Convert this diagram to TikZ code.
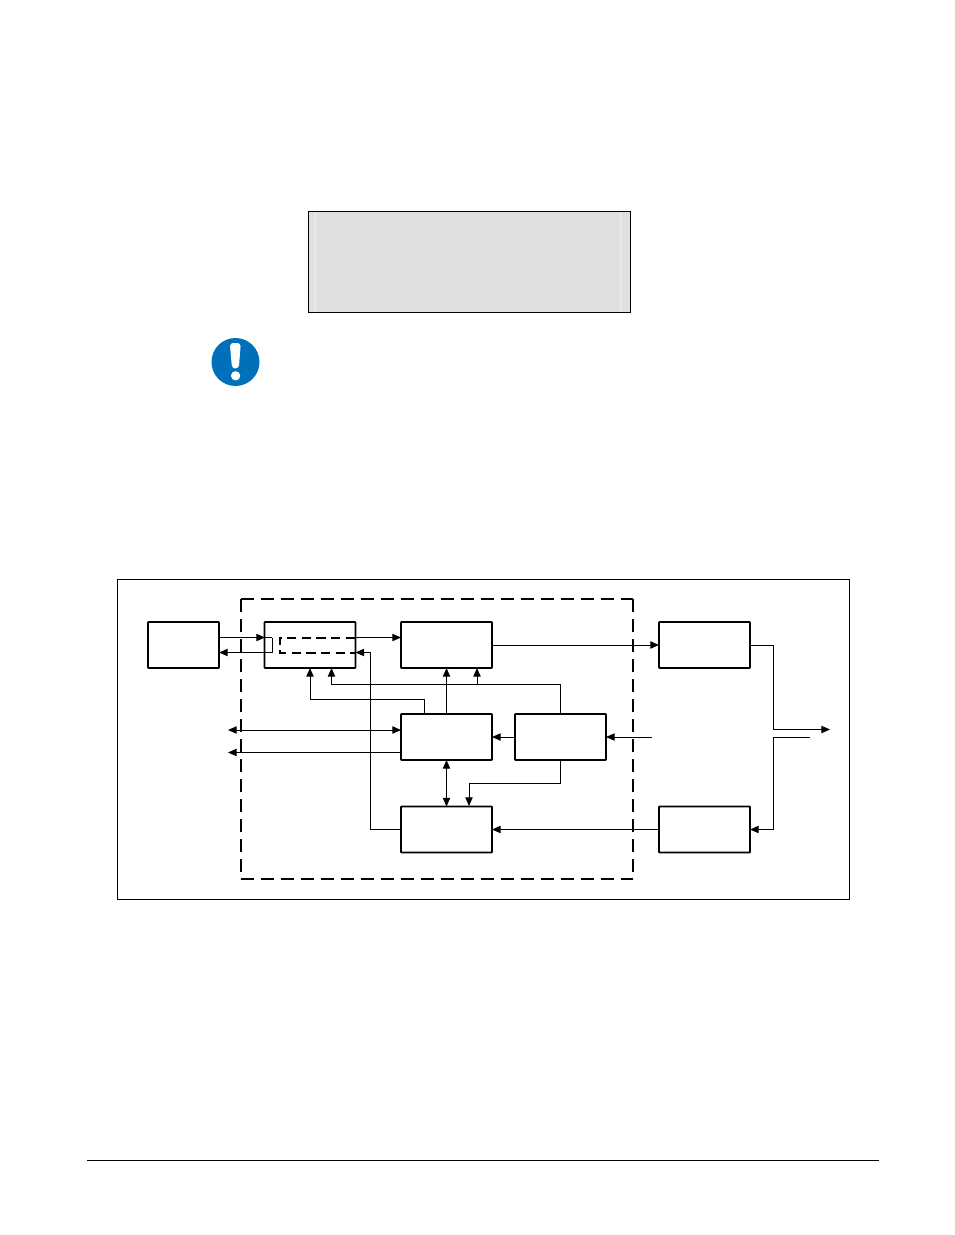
\documentclass[tikz,border=0pt]{standalone}
\usepackage{xcolor}
\usetikzlibrary{shapes.geometric, arrows.meta, positioning}
\definecolor{noteblue}{HTML}{0070BB}
\definecolor{panelgray}{HTML}{DFDFDF}
\definecolor{panelstrip}{HTML}{E9E9E9}

\begin{document}
\begin{tikzpicture}[
  x=0.75pt, y=-0.75pt,
  block/.style={rectangle, draw=black, line width=1.4pt, rounded corners=0.5pt, inner sep=0pt, outer sep=0pt, minimum width=68.25pt, minimum height=34.5pt},
  srcblock/.style={block, minimum width=53.25pt},
  panel/.style={rectangle, draw=black, line width=0.6pt, fill=panelgray, inner sep=0pt, outer sep=0pt, minimum width=241.5pt, minimum height=75.75pt},
  frame/.style={rectangle, draw=black, line width=0.6pt, inner sep=0pt, outer sep=0pt, minimum width=549pt, minimum height=240pt},
  region/.style={rectangle, inner sep=0pt, outer sep=0pt, minimum width=294pt, minimum height=210pt},
  coredash/.style={line width=1.5pt, dash pattern=on 10pt off 5pt},
  coreside/.style={line width=0.8pt, dash pattern=on 10pt off 5pt},
  arrow/.style={line width=0.75pt, -{Triangle[length=6.5pt,width=5.5pt]}},
  bothways/.style={line width=0.75pt, {Triangle[length=6.5pt,width=5.5pt]}-{Triangle[length=6.5pt,width=5.5pt]}},
  wire/.style={line width=0.75pt},
  innerdash/.style={line width=1.5pt, dash pattern=on 7pt off 4pt}
]
\useasboundingbox (0,0) rectangle (954,1235);

% Top panel and note icon
\node (panel) [panel] at (469,261.5) {};
\draw [panelstrip, line width=0.8pt] (315,213) -- (315,311);
\draw [panelstrip, line width=0.8pt] (621,213) -- (621,311);
\node (icon) [circle, fill=noteblue, inner sep=0pt, minimum size=36pt] at (235.5,362) {};
\fill [white, rounded corners=2.5pt] (229.8,343) -- (240.8,343) -- (238.8,368.5) -- (232,368.5) -- cycle;
\node (dot) [circle, fill=white, inner sep=0pt, minimum size=7pt] at (235.6,375.8) {};

% Frames
\node (frame) [frame] at (483.5,739) {};
\node (core) [region] at (437,739) {};
\draw [coredash] (core.north west) -- (core.north east);
\draw [coredash] (core.south west) -- (core.south east);
\draw [coreside] (core.north west) -- (core.south west);
\draw [coreside] (core.north east) -- (core.south east);

% Blocks
\node (src) [srcblock] at (183.5,645) {};
\node (link) [block] at (310,645) {};
\node (enc) [block] at (446.5,645) {};
\node (tx) [block] at (704.5,645) {};
\node (ctrl) [block] at (446.5,737) {};
\node (clk) [block] at (560.5,737) {};
\node (dec) [block] at (446.5,829.5) {};
\node (rx) [block] at (704.5,829.5) {};

% Free ends
\coordinate (srcin) at (219,637.5);
\coordinate (srcout) at (219,652.5);
\coordinate (linkin) at (265,637.5);
\coordinate (turnA) at (272,637.5);
\coordinate (turnB) at (272,652.5);
\coordinate (turnC) at (279.5,637.5);
\coordinate (turnD) at (279.5,652.5);
\coordinate (linkeast) at (355,637.5);
\coordinate (linkback) at (355.5,652.5);
\coordinate (encin) at (401,637.5);
\coordinate (busA) at (228,730);
\coordinate (busAend) at (401,730);
\coordinate (busB) at (228,752.5);
\coordinate (busBend) at (401,752.5);
\coordinate (refin) at (652,737);
\coordinate (txjoin) at (830,729.5);
\coordinate (rxjoin) at (810,737);

% Left side
\draw [arrow] (srcin) -- (linkin);
\draw [wire] (linkin) -- (turnA);
\draw [arrow] (turnB) -- (srcout);
\draw [wire] (turnA) -- (turnB);
\draw [innerdash] (linkeast) -- (turnC) -- (turnD) -- (linkback);
\draw [arrow] (linkeast) -- (encin);
\draw [arrow] (dec.west) -- (370.5,829.5) -- (370.5,652.5) -- (linkback);
\draw [bothways] (busA) -- (busAend);
\draw [arrow] (busBend) -- (busB);

% Middle
\draw [arrow] (enc.east) -- (tx.west);
\draw [arrow] (ctrl.north) -- (enc.south);
\draw [bothways] (ctrl.south) -- (dec.north);
\draw [arrow] (clk.west) -- (ctrl.east);
\draw [arrow] (refin) -- (clk.east);
\draw [arrow] (rx.west) -- (dec.east);
\draw [arrow] (clk.north) -- (560.5,684) -- (331.5,684) -- (331.5,668);
\draw [arrow] (477,684) -- (477,668);
\draw [arrow] (424,714) -- (424,699) -- (310,699) -- (link.south);
\draw [arrow] (clk.south) -- (560.5,783) -- (469,783) -- (469,806);

% Right side
\draw [arrow] (tx.east) -- (773,645) -- (773,729.5) -- (txjoin);
\draw [arrow] (rxjoin) -- (773,737) -- (773,829.5) -- (rx.east);

% Footer
\coordinate (footL) at (87,1160.5);
\coordinate (footR) at (879,1160.5);
\draw [line width=0.6pt] (footL) -- (footR);

\end{tikzpicture}
\end{document}
